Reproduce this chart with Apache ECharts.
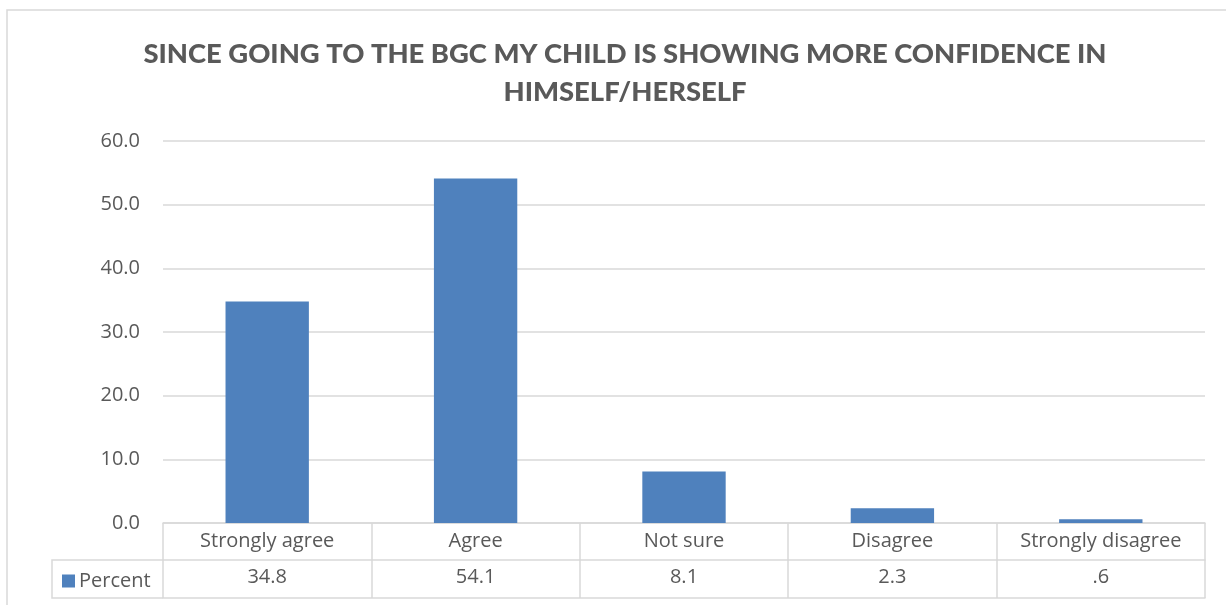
<!DOCTYPE html>
<html><head><meta charset="utf-8">
<style>html,body{margin:0;padding:0;background:#fff}#c{width:1226px;height:605px}</style>
<script src="https://cdn.jsdelivr.net/npm/echarts@6/dist/echarts.min.js"></script>
</head><body><div id="c"></div>
<script>
var titleText = 'SINCE GOING TO THE BGC MY CHILD IS SHOWING MORE CONFIDENCE IN\nHIMSELF/HERSELF';
var categories = ['Strongly agree', 'Agree', 'Not sure', 'Disagree', 'Strongly disagree'];
var seriesName = 'Percent';
var percentValues = [34.8, 54.1, 8.1, 2.3, 0.6];
var yTicks = [0, 10, 20, 30, 40, 50, 60];

function fmt(v){ var s = v.toFixed(1); return s.charAt(0)==='0' ? s.slice(1) : s; }
var tableLabels = percentValues.map(fmt);

var txt = '#595959', line = '#d9d9d9', barColor = '#4f81bd';
var font = 'Open Sans';
var fs = 20;
var chart = echarts.init(document.getElementById('c'), null, {renderer:'canvas'});
chart.setOption({
  animation: false,
  textStyle: {fontFamily: font},
  title: {
    text: titleText, left: 620, textAlign: 'center', top: 30,
    textStyle: {fontFamily: 'Lato', fontWeight: 900, fontSize: 27.4, color: txt, lineHeight: 38}
  },
  legend: {
    data: [seriesName], left: 57, top: 566, itemWidth: 13, itemHeight: 13, itemGap: 5,
    icon: 'rect', textStyle: {color: txt, fontSize: fs, fontFamily: font, padding: [0,0,0,-1]}
  },
  grid: {left: 163, right: 21, top: 141, bottom: 82},
  xAxis: [{
    type: 'category', data: categories, position: 'bottom',
    axisLine: {lineStyle: {color: line, width: 1.5}},
    axisTick: {show: true, interval: 0, length: 37, lineStyle: {color: line, width: 1.5}},
    axisLabel: {color: txt, fontSize: fs, interval: 0, hideOverlap: false, margin: 8, fontFamily: font}
  }, {
    type: 'category', data: tableLabels, position: 'bottom', offset: 37,
    axisLine: {lineStyle: {color: line, width: 1.5}},
    axisTick: {show: true, interval: 0, length: 38, lineStyle: {color: line, width: 1.5}},
    axisLabel: {color: txt, fontSize: fs, interval: 0, margin: 7, fontFamily: font}
  }, {
    type: 'category', data: tableLabels, position: 'bottom', offset: 75,
    axisLine: {lineStyle: {color: line, width: 1.5}},
    axisTick: {show: false}, axisLabel: {show: false}
  }],
  yAxis: {
    type: 'value', min: yTicks[0], max: yTicks[yTicks.length-1], interval: 10,
    axisLine: {show: false}, axisTick: {show: false},
    axisLabel: {color: txt, fontSize: fs, margin: 23, formatter: function(v){return v.toFixed(1);}},
    splitLine: {lineStyle: {color: line, width: 1.5}}
  },
  series: [{
    name: seriesName, type: 'bar', xAxisIndex: 0, data: percentValues,
    barWidth: '40%', itemStyle: {color: barColor}
  }],
  graphic: [
    {type: 'rect', shape: {x: 7, y: 10, width: 1240, height: 620}, style: {fill: null, stroke: line, lineWidth: 1.5}, silent: true},
    {type: 'polyline', shape: {points: [[163,560],[52,560],[52,598],[163,598]]}, style: {fill: null, stroke: line, lineWidth: 1.5}, silent: true}
  ]
});
</script></body></html>
